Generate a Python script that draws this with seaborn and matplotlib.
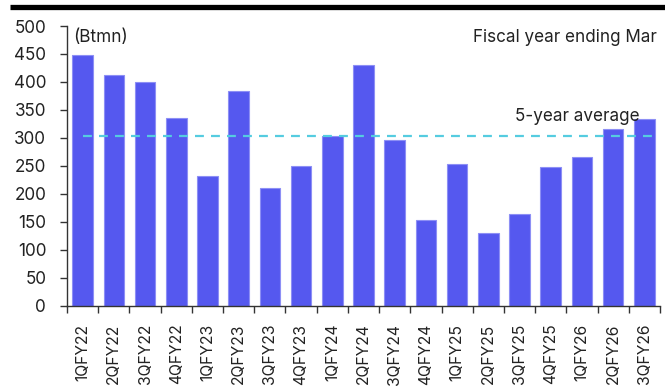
import matplotlib
matplotlib.use("Agg")
import matplotlib.pyplot as plt
import seaborn as sns
import pandas as pd
import numpy as np

quarters = ["1QFY22", "2QFY22", "3QFY22", "4QFY22",
            "1QFY23", "2QFY23", "3QFY23", "4QFY23",
            "1QFY24", "2QFY24", "3QFY24", "4QFY24",
            "1QFY25", "2QFY25", "3QFY25", "4QFY25",
            "1QFY26", "2QFY26", "3QFY26"]
values = [448, 412, 400, 336,
          231, 383, 211, 250,
          304, 431, 297, 153,
          253, 130, 164, 248,
          266, 315, 333]
five_year_avg = 303
y_ticks = [0, 50, 100, 150, 200, 250, 300, 350, 400, 450, 500]

sns.set_theme(style="white")
plt.rcParams["font.family"] = ["Inter", "DejaVu Sans"]

bar_color = "#5558EF"
avg_color = "#55CCE0"
text_color = "#222222"
fs = 12.3
fs_x = 11.3

df = pd.DataFrame({"quarter": quarters, "value": values})

fig = plt.figure(figsize=(6.65, 3.87), dpi=100)
ax = fig.add_axes([0.1008, 0.2101, 0.8917, 0.7227])

sns.barplot(data=df, x="quarter", y="value", color=bar_color, width=0.66,
            edgecolor="#8D8FF5", linewidth=0.8, saturation=1, ax=ax)

ax.plot([0, 18.25], [five_year_avg, five_year_avg], color=avg_color,
        linestyle=(0, (4, 3.2)), linewidth=1.6, zorder=3)
ax.text(17.85, five_year_avg + 36, "5-year average", ha="right", va="center",
        fontsize=fs, color=text_color)

ax.set_xlim(-0.5, len(quarters) - 0.5)
ax.set_ylim(0, 500)
ax.set_yticks(y_ticks)
ax.set_xlabel("")
ax.set_ylabel("")

# category labels at bar centres, tick marks at the boundaries
ax.set_xticks(np.arange(len(quarters)))
ax.set_xticklabels(quarters, rotation=90, fontsize=fs_x, color=text_color)
ax.set_xticks(np.arange(len(quarters) + 1) - 0.5, minor=True)
ax.tick_params(axis="x", which="major", length=0, pad=13)
ax.tick_params(axis="x", which="minor", length=5, width=1, color="#333333",
               direction="out", bottom=True)
ax.tick_params(axis="y", length=5, width=1, color="#333333", direction="out",
               left=True, pad=10, labelsize=fs, labelcolor=text_color)

for side in ("top", "right"):
    ax.spines[side].set_visible(False)
for side in ("left", "bottom"):
    ax.spines[side].set_color("#333333")
    ax.spines[side].set_linewidth(1)

ax.text(0.01, 0.96, "(Btmn)", transform=ax.transAxes, ha="left", va="center",
        fontsize=fs, color=text_color)
ax.text(0.995, 0.96, "Fiscal year ending Mar", transform=ax.transAxes,
        ha="right", va="center", fontsize=fs, color=text_color)

# heavy rule across the top of the figure
fig.add_artist(plt.Line2D([10 / 665, 1.0], [1 - 6.5 / 387, 1 - 6.5 / 387],
                          transform=fig.transFigure, color="black",
                          linewidth=3.8, solid_capstyle="butt"))

fig.savefig("out.png", dpi=100)
